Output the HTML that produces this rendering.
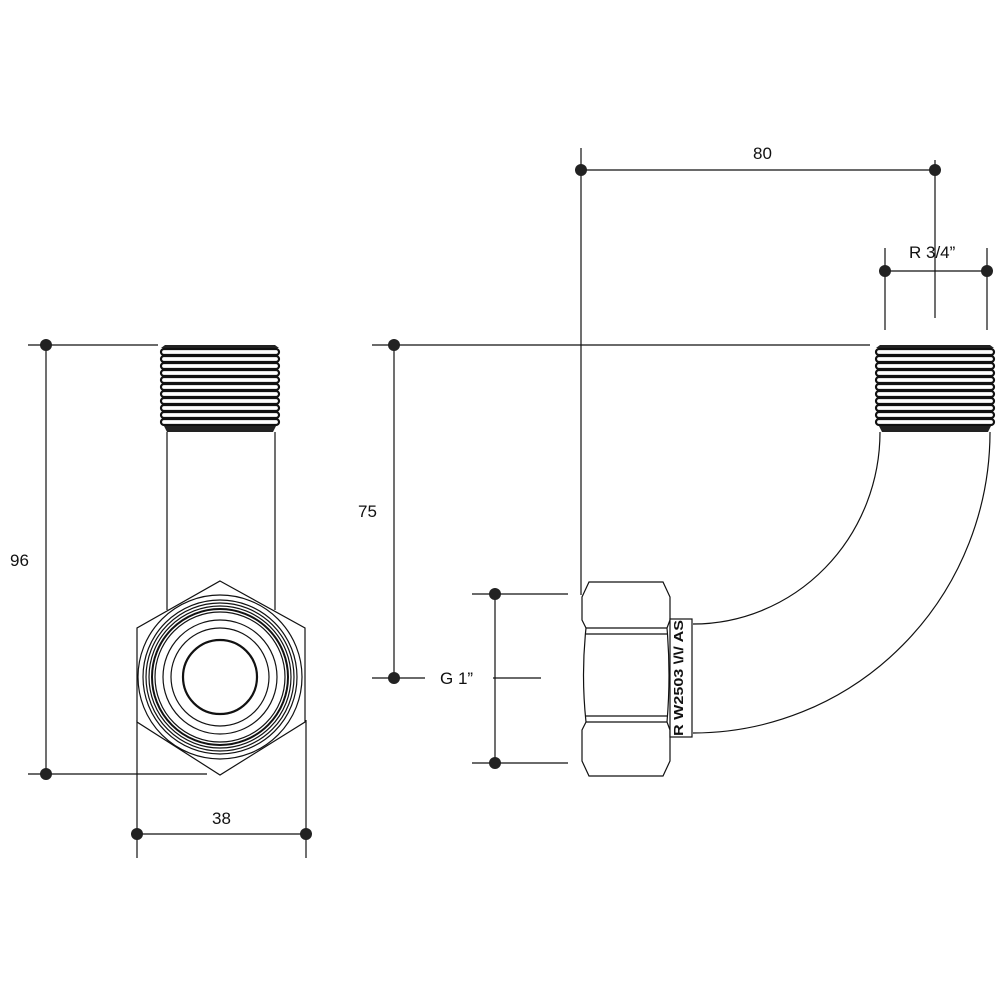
<!DOCTYPE html>
<html><head><meta charset="utf-8"><style>
html,body{margin:0;padding:0;background:#fff}
svg{display:block}
text{font-family:"Liberation Sans",sans-serif;font-size:17px;fill:#111}
</style></head><body>
<svg width="1000" height="1000" viewBox="0 0 1000 1000" xmlns="http://www.w3.org/2000/svg">
<defs>
<g id="thr">
 <path d="M4,0 H114 L118,3 H0 Z" fill="#222"/>
 <g fill="#fff" stroke="#111" stroke-width="2.2">
  <rect x="0" y="4" width="118" height="6" rx="3"/>
  <rect x="0" y="11" width="118" height="6" rx="3"/>
  <rect x="0" y="18" width="118" height="6" rx="3"/>
  <rect x="0" y="25" width="118" height="6" rx="3"/>
  <rect x="0" y="32" width="118" height="6" rx="3"/>
  <rect x="0" y="39" width="118" height="6" rx="3"/>
  <rect x="0" y="46" width="118" height="6" rx="3"/>
  <rect x="0" y="53" width="118" height="6" rx="3"/>
  <rect x="0" y="60" width="118" height="6" rx="3"/>
  <rect x="0" y="67" width="118" height="6" rx="3"/>
  <rect x="0" y="74" width="118" height="6" rx="3"/>
 </g>
 <path d="M3,81 H115 L112,87 H6 Z" fill="#222"/>
</g>
</defs>
<g stroke="#111" stroke-width="1.2" fill="none">
<line x1="46" y1="345" x2="46" y2="774"/>
<line x1="28" y1="345" x2="158" y2="345"/>
<line x1="28" y1="774" x2="207" y2="774"/>
<line x1="137" y1="720" x2="137" y2="858"/>
<line x1="306" y1="720" x2="306" y2="858"/>
<line x1="137" y1="834" x2="306" y2="834"/>
<line x1="167" y1="432" x2="167" y2="610"/>
<line x1="275" y1="432" x2="275" y2="610"/>
<polygon points="220,581 305,628 305,722 220,775 137,722 137,628" fill="#fff"/>
<circle cx="220" cy="677" r="82"/>
<circle cx="220" cy="677" r="77"/>
<circle cx="220" cy="677" r="74"/>
<circle cx="220" cy="677" r="71"/>
<circle cx="220" cy="677" r="68" stroke-width="2"/>
<circle cx="220" cy="677" r="65"/>
<circle cx="220" cy="677" r="57"/>
<circle cx="220" cy="677" r="49"/>
<circle cx="220" cy="677" r="37" stroke-width="2.2"/>

<line x1="581" y1="148" x2="581" y2="595"/>
<line x1="935" y1="160" x2="935" y2="318"/>
<line x1="581" y1="170" x2="935" y2="170"/>
<line x1="885" y1="248" x2="885" y2="330"/>
<line x1="987" y1="248" x2="987" y2="330"/>
<line x1="885" y1="271" x2="987" y2="271"/>
<line x1="394" y1="345" x2="394" y2="678"/>
<line x1="372" y1="345" x2="870" y2="345"/>
<line x1="372" y1="678" x2="425" y2="678"/>
<line x1="493" y1="678" x2="541" y2="678"/>
<line x1="495" y1="594" x2="495" y2="763"/>
<line x1="472" y1="594" x2="568" y2="594"/>
<line x1="472" y1="763" x2="568" y2="763"/>
<path d="M880,432 A187,192 0 0 1 693,624"/>
<path d="M990,432 A297,301 0 0 1 693,733"/>
<path d="M589,582 H663 L670,597 V620 L667,628 Q671,675 667,722 L670,730 V761 L663,776 H589 L582,761 V730 L586,722 Q581,675 586,628 L582,620 V597 Z" fill="#fff"/>
<line x1="586" y1="628" x2="667" y2="628"/>
<line x1="586" y1="634" x2="667" y2="634"/>
<line x1="586" y1="716" x2="667" y2="716"/>
<line x1="586" y1="722" x2="667" y2="722"/>
<rect x="670" y="619" width="22" height="118" fill="#fff"/>
</g>
<use href="#thr" x="161" y="345"/>
<use href="#thr" x="876" y="345"/>
<text x="0" y="0" transform="translate(683,736) rotate(-90)" style="font-size:13px;font-weight:bold" textLength="116" lengthAdjust="spacingAndGlyphs">R W2503 \/\/ AS</text>
<g fill="#222">
<circle cx="46" cy="345" r="6"/><circle cx="46" cy="774" r="6"/>
<circle cx="137" cy="834" r="6"/><circle cx="306" cy="834" r="6"/>
<circle cx="581" cy="170" r="6"/><circle cx="935" cy="170" r="6"/>
<circle cx="885" cy="271" r="6"/><circle cx="987" cy="271" r="6"/>
<circle cx="394" cy="345" r="6"/><circle cx="394" cy="678" r="6"/>
<circle cx="495" cy="594" r="6"/><circle cx="495" cy="763" r="6"/>
</g>
<text x="10" y="566">96</text>
<text x="212" y="824">38</text>
<text x="753" y="159">80</text>
<text x="909" y="258">R 3/4”</text>
<text x="358" y="517">75</text>
<text x="440" y="684">G 1”</text>
</svg>
</body></html>
